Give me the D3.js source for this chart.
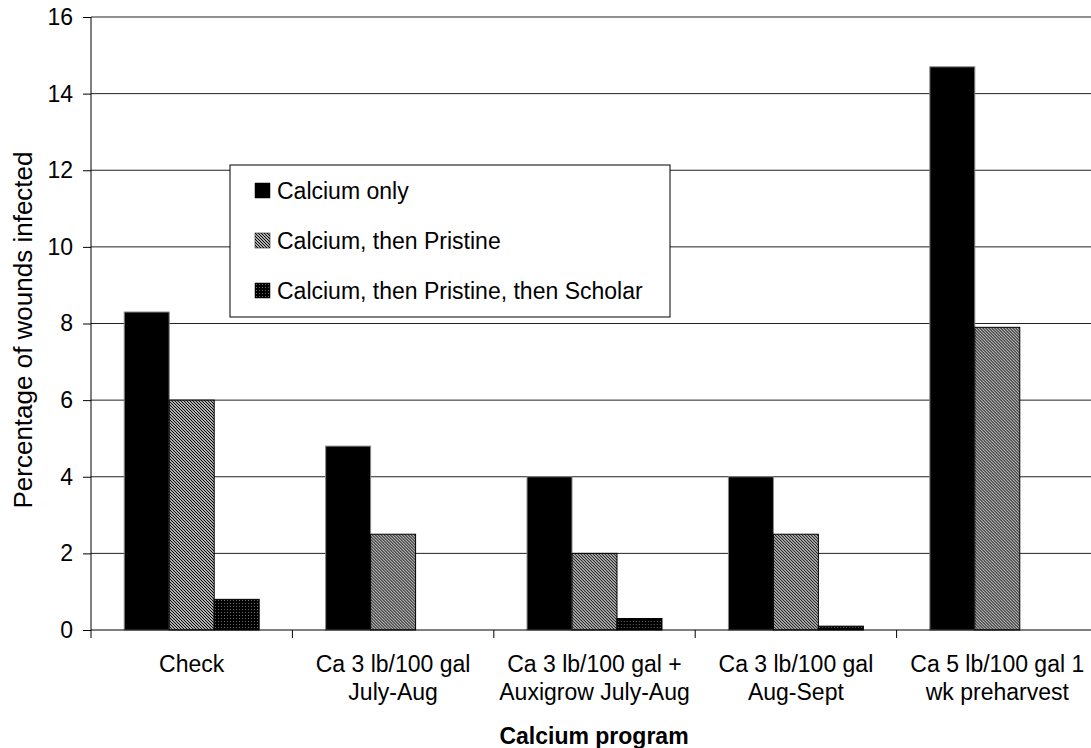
<!DOCTYPE html>
<html>
<head>
<meta charset="utf-8">
<script src="https://cdn.jsdelivr.net/npm/d3@7"></script>
<style>
  body { margin: 0; background: #fff; }
  svg text { font-family: "Liberation Sans", Arial, sans-serif; fill: #000; }
</style>
</head>
<body>
<div id="chart"></div>
<script>
var categories = [
  ["Check"],
  ["Ca 3 lb/100 gal", "July-Aug"],
  ["Ca 3 lb/100 gal +", "Auxigrow July-Aug"],
  ["Ca 3 lb/100 gal", "Aug-Sept"],
  ["Ca 5 lb/100 gal 1", "wk preharvest"]
];
var seriesNames = ["Calcium only", "Calcium, then Pristine", "Calcium, then Pristine, then Scholar"];
var calciumOnly = [8.3, 4.8, 4.0, 4.0, 14.7];
var thenPristine = [6.0, 2.5, 2.0, 2.5, 7.9];
var thenScholar = [0.8, 0, 0.3, 0.1, 0];
var yTicks = [0, 2, 4, 6, 8, 10, 12, 14, 16];

var W = 1091, H = 748;
var m = {t:17, l:91, b:118, r:-7};
var w = W - m.l - m.r, h = H - m.t - m.b;

var svg = d3.select("#chart").append("svg")
  .attr("width", W).attr("height", H);

// fill patterns
var defs = svg.append("defs");
var hatch = defs.append("pattern").attr("id","hatch")
  .attr("patternUnits","userSpaceOnUse").attr("width",3).attr("height",3);
hatch.append("rect").attr("width",3).attr("height",3).attr("fill","#fff");
hatch.append("path").attr("d","M-1,-1L4,4M-1,2L1,4M2,-1L4,1")
  .attr("stroke","#000").attr("stroke-width",1.2);

var dots = defs.append("pattern").attr("id","dots")
  .attr("patternUnits","userSpaceOnUse").attr("width",3).attr("height",3);
dots.append("rect").attr("width",3).attr("height",3).attr("fill","#000");
dots.append("rect").attr("x",1).attr("y",1).attr("width",1).attr("height",1).attr("fill","#666");

var fills = ["#000", "url(#hatch)", "url(#dots)"];
var strokes = ["#888", "#000", "#000"];

var g = svg.append("g").attr("transform","translate("+m.l+","+m.t+")");

var x = d3.scaleBand().domain(d3.range(categories.length)).range([0, w]).padding(0);
var xs = d3.scaleBand().domain(d3.range(3)).range([x.bandwidth()*0.165, x.bandwidth()*0.835]);
var y = d3.scaleLinear().domain([0,16]).range([h,0]);

// gridlines
g.selectAll(".grid").data(yTicks.slice(1)).enter().append("line")
  .attr("x1",0).attr("x2",w)
  .attr("y1",function(d){ return y(d); }).attr("y2",function(d){ return y(d); })
  .attr("stroke","#222").attr("stroke-width",1);

var data = categories.map(function(c,i){
  return [calciumOnly[i], thenPristine[i], thenScholar[i]];
});

var grp = g.selectAll(".grp").data(data).enter().append("g")
  .attr("transform",function(d,i){ return "translate("+x(i)+",0)"; });

grp.selectAll("rect").data(function(d){ return d; }).enter()
  .filter(function(d){ return d > 0; })
  .append("rect")
  .attr("x",function(d,j){ return xs(j); })
  .attr("width", xs.bandwidth())
  .attr("y",function(d){ return y(d); })
  .attr("height",function(d){ return h - y(d); })
  .attr("fill",function(d,j){ return fills[j]; })
  .attr("stroke",function(d,j){ return strokes[j]; }).attr("stroke-width",1);

// y axis
var axisY = d3.axisLeft(y).tickValues(yTicks).tickSize(8).tickPadding(10);
g.append("g").call(axisY)
  .call(function(s){
    s.selectAll("text").attr("font-size","23px").attr("font-family","Liberation Sans, Arial, sans-serif");
    s.select(".domain").attr("d","M0,0V"+h);
    s.selectAll("line").attr("stroke","#000");
  });

// x axis
var xAxisG = g.append("g").attr("transform","translate(0,"+h+")");
xAxisG.append("line").attr("x1",0).attr("x2",w).attr("stroke","#000");
xAxisG.selectAll(".tk").data(d3.range(categories.length+1)).enter().append("line")
  .attr("x1",function(i){ return i*x.step(); }).attr("x2",function(i){ return i*x.step(); })
  .attr("y1",0).attr("y2",8).attr("stroke","#000");
xAxisG.selectAll(".lab").data(categories).enter().append("text")
  .attr("x",function(d,i){ return x(i)+x.bandwidth()/2; })
  .attr("y",42)
  .attr("text-anchor","middle").attr("font-size","23px")
  .each(function(d){
    var t = d3.select(this);
    d.forEach(function(line,k){
      t.append("tspan").attr("x",t.attr("x")).attr("dy",k===0?0:28).text(line);
    });
  });

// axis titles
svg.append("text").attr("x", 594).attr("y", 744)
  .attr("text-anchor","middle").attr("font-size","23px").attr("font-weight","bold")
  .text("Calcium program");
svg.append("text").attr("transform","translate(32,330) rotate(-90)")
  .attr("text-anchor","middle").attr("font-size","26px")
  .text("Percentage of wounds infected");

// legend
var leg = svg.append("g").attr("transform","translate(230,165)");
leg.append("rect").attr("width",440).attr("height",152)
  .attr("fill","#fff").attr("stroke","#000").attr("stroke-width",1);
var li = leg.selectAll(".li").data(seriesNames).enter().append("g")
  .attr("transform",function(d,i){ return "translate(25,"+(18+i*50)+")"; });
li.append("rect").attr("width",15).attr("height",15)
  .attr("fill",function(d,i){ return fills[i]; }).attr("stroke","#000").attr("stroke-width",0.5);
li.append("text").attr("x",22).attr("y",16).attr("font-size","23px").text(function(d){ return d; });
</script>
</body>
</html>
